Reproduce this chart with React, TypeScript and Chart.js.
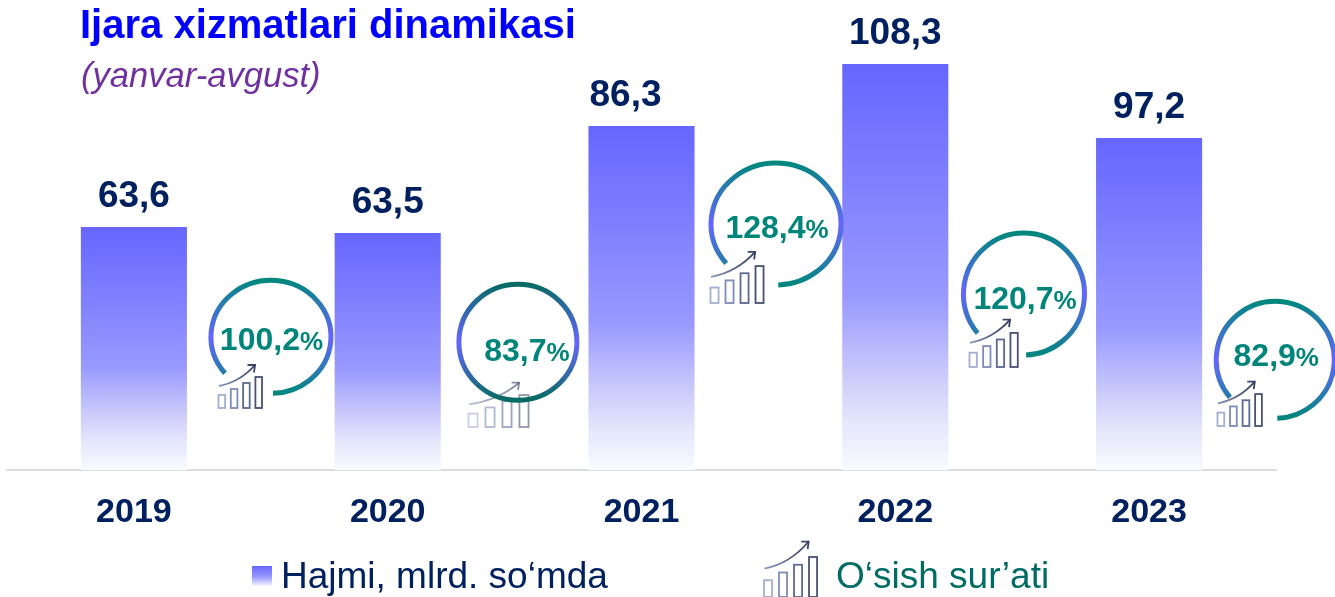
import React, { useEffect, useRef } from "react";
import { Chart, registerables } from "chart.js";

Chart.register(...registerables);

const years = ["2019", "2020", "2021", "2022", "2023"];
const valueLabels = ["63,6", "63,5", "86,3", "108,3", "97,2"];
const barLevels = [64.6, 63.0, 91.5, 108.0, 88.3];
const growthLabels = ["100,2", "83,7", "128,4", "120,7", "82,9"];
const growthSlots = [0.54, 1.513, 2.53, 3.507, 4.497];
const growthLevels = [35.4, 34.0, 65.4, 46.8, 29.3];

const FONT = '"Liberation Sans", Arial, sans-serif';
const NAVY = "#002060";
const TEAL = "#00857a";

type RingStyle = {
  rx: number; ry: number; full?: boolean; edge: string;
  tx: number; ty: number;
  ix: number; iy: number; sx: number; sy: number; alpha: number;
};

const ringStyles: RingStyle[] = [
  { rx: 60, ry: 56.5, edge: "#00877d", tx: 0.5, ty: 2, ix: 218, iy: 408, sx: 1, sy: 1, alpha: 1 },
  { rx: 59, ry: 58, full: true, edge: "#066b62", tx: 9, ty: 8, ix: 468, iy: 427, sx: 1.38, sy: 1.03, alpha: 0.6 },
  { rx: 65, ry: 61, edge: "#00877d", tx: 1, ty: 3, ix: 710, iy: 303, sx: 1.22, sy: 1.19, alpha: 1 },
  { rx: 60.5, ry: 61, edge: "#00877d", tx: 1, ty: 4, ix: 969, iy: 367, sx: 1.11, sy: 1.1, alpha: 1 },
  { rx: 59, ry: 58.5, edge: "#00877d", tx: 1, ty: -5, ix: 1217, iy: 426, sx: 1.02, sy: 1.03, alpha: 1 },
];

const labelShift = [0, 0, -16, 0, 0];

function drawIcon(c: CanvasRenderingContext2D, ox: number, oy: number, sx: number, sy: number, alpha: number) {
  c.save();
  c.globalAlpha = alpha;
  const heights = [13, 19, 25, 31];
  const colors = ["#a3afd2", "#7d8cb8", "#5c6992", "#465174"];
  heights.forEach((h, i) => {
    c.strokeStyle = colors[i];
    c.lineWidth = 1.8;
    c.strokeRect(ox + i * 12.3 * sx + 0.5, oy - h * sy, 6.6 * sx, h * sy);
  });
  const g = c.createLinearGradient(ox, 0, ox + 37 * sx, 0);
  g.addColorStop(0, "#8d99bb");
  g.addColorStop(1, "#343e60");
  c.strokeStyle = g;
  c.lineWidth = 1.8;
  const tx = ox + 37 * sx;
  const ty = oy - 43 * sy;
  c.beginPath();
  c.moveTo(ox + 1, oy - 22 * sy);
  c.quadraticCurveTo(ox + 22 * sx, oy - 26 * sy, tx, ty);
  c.stroke();
  c.beginPath();
  c.moveTo(tx - 7.5, ty);
  c.lineTo(tx, ty);
  c.lineTo(tx - 1, ty + 7.5);
  c.stroke();
  c.restore();
}

const decorations = {
  id: "decorations",
  afterDatasetsDraw(chart: any) {
    const c: CanvasRenderingContext2D = chart.ctx;
    c.save();
    c.textBaseline = "alphabetic";

    // title
    c.textAlign = "left";
    c.fillStyle = "#0000ff";
    c.font = `bold 40px ${FONT}`;
    c.fillText("Ijara xizmatlari dinamikasi", 80, 38);
    c.fillStyle = "#7030a0";
    c.font = `italic 34.6px ${FONT}`;
    c.fillText("(yanvar-avgust)", 81, 87);

    // bar value labels
    const bars = chart.getDatasetMeta(0).data;
    c.textAlign = "center";
    c.textBaseline = "middle";
    c.fillStyle = NAVY;
    c.font = `bold 37px ${FONT}`;
    bars.forEach((el: any, i: number) => {
      c.fillText(valueLabels[i], el.x + labelShift[i], el.y - 30);
    });

    // growth rings
    const rings = chart.getDatasetMeta(1).data;
    rings.forEach((el: any, i: number) => {
      const s = ringStyles[i];
      drawIcon(c, s.ix, s.iy, s.sx, s.sy, s.alpha);
      const g = c.createLinearGradient(0, el.y - s.ry, 0, el.y + s.ry);
      g.addColorStop(0, s.edge);
      g.addColorStop(0.5, "#6666ff");
      g.addColorStop(1, s.edge);
      c.strokeStyle = g;
      c.lineWidth = 5;
      c.beginPath();
      if (s.full) c.ellipse(el.x, el.y, s.rx, s.ry, 0, 0, Math.PI * 2);
      else c.ellipse(el.x, el.y, s.rx, s.ry, 0, (140 * Math.PI) / 180, (448 * Math.PI) / 180);
      c.stroke();

      c.fillStyle = TEAL;
      c.textAlign = "left";
      c.textBaseline = "alphabetic";
      c.font = `bold 32px ${FONT}`;
      const w1 = c.measureText(growthLabels[i]).width;
      c.font = `bold 26px ${FONT}`;
      const w2 = c.measureText("%").width;
      const left = el.x + s.tx - (w1 + w2) / 2;
      const base = el.y + s.ty + 11;
      c.font = `bold 32px ${FONT}`;
      c.fillText(growthLabels[i], left, base);
      c.font = `bold 26px ${FONT}`;
      c.fillText("%", left + w1, base);
    });

    // legend
    const lg = c.createLinearGradient(0, 566, 0, 586);
    lg.addColorStop(0, "#6666ff");
    lg.addColorStop(0.55, "#9999ff");
    lg.addColorStop(1, "#f5f7ff");
    c.fillStyle = lg;
    c.fillRect(252, 566, 20, 20);
    c.textBaseline = "alphabetic";
    c.textAlign = "left";
    c.font = `37px ${FONT}`;
    c.fillStyle = NAVY;
    c.fillText("Hajmi, mlrd. so\u2018mda", 281, 588);
    drawIcon(c, 763.5, 597, 1.22, 1.29, 1);
    c.fillStyle = "#006c64";
    c.fillText("O\u2018sish sur\u2019ati", 836, 588);
    c.restore();
  },
};

function barGradient(ctx: any) {
  const chart = ctx.chart;
  if (!chart.chartArea || ctx.raw === undefined) return "#6666ff";
  const top = chart.scales.y.getPixelForValue(ctx.raw);
  const bottom = chart.scales.y.getPixelForValue(0);
  const g = chart.ctx.createLinearGradient(0, top, 0, bottom);
  g.addColorStop(0, "#6666ff");
  g.addColorStop(0.575, "#9999ff");
  g.addColorStop(0.79, "#d0d0fb");
  g.addColorStop(0.88, "#e4e6fb");
  g.addColorStop(1, "#f8fbff");
  return g;
}

export default function App() {
  const ref = useRef<HTMLCanvasElement | null>(null);
  useEffect(() => {
    if (!ref.current) return;
    const chart = new Chart(ref.current, {
      type: "bar",
      data: {
        labels: years,
        datasets: [
          {
            label: "Hajmi, mlrd. so\u2018mda",
            data: barLevels,
            backgroundColor: barGradient,
            categoryPercentage: 0.418,
            barPercentage: 1,
            grouped: false,
            xAxisID: "x",
            yAxisID: "y",
          } as any,
          {
            type: "scatter",
            label: "O\u2018sish sur\u2019ati",
            data: growthSlots.map((x, i) => ({ x, y: growthLevels[i] })),
            pointRadius: 0,
            xAxisID: "xr",
            yAxisID: "y",
          } as any,
        ],
      },
      options: {
        animation: false,
        responsive: false,
        layout: { padding: { left: 7, right: 59, top: 0, bottom: 0 } },
        plugins: { legend: { display: false }, tooltip: { enabled: false } },
        scales: {
          x: {
            type: "category",
            offset: true,
            grid: { display: false, drawTicks: false },
            border: { display: true, color: "#dcdde0", width: 2 },
            ticks: { color: NAVY, font: { family: FONT, size: 34, weight: "bold" }, padding: 22, maxRotation: 0 },
            afterFit: (s: any) => { s.height = 127; },
          },
          xr: { type: "linear", min: -0.5, max: 4.5, display: false, offset: false },
          y: { min: 0, max: 125, display: false },
        },
      } as any,
      plugins: [decorations],
    });
    return () => chart.destroy();
  }, []);
  return (
    <canvas
      ref={ref}
      width={1335}
      height={597}
      style={{ position: "fixed", left: 0, top: 0, display: "block", background: "#fff" }}
    />
  );
}
